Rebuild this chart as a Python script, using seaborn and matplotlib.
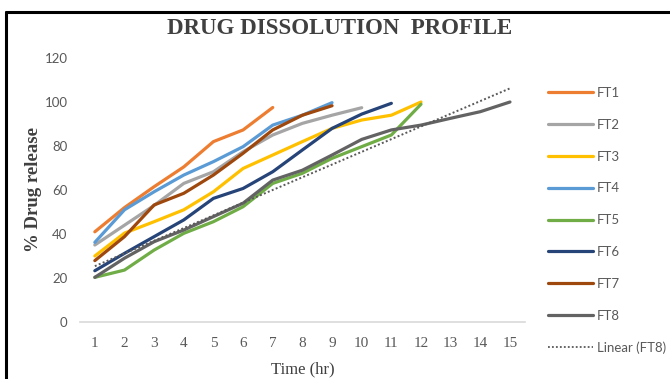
import numpy as np
import pandas as pd
import matplotlib
matplotlib.use("Agg")
import matplotlib.pyplot as plt
import seaborn as sns
from matplotlib.lines import Line2D

time_hr = list(range(1, 16))
series_names = ["FT1", "FT2", "FT3", "FT4", "FT5", "FT6", "FT7", "FT8"]
ft1 = [41, 52, 61.5, 70.5, 82, 87.3, 97.5]
ft2 = [35, 44, 53, 63, 68.3, 77.4, 85, 90.3, 94, 97.4]
ft3 = [30, 40.4, 45.6, 51, 59.2, 69.8, 75.9, 82, 88, 91.8, 94, 100]
ft4 = [36.2, 51, 59.2, 66.8, 72.9, 79.7, 89.5, 94, 99.7]
ft5 = [20.3, 23.6, 32.7, 40.3, 45.6, 52.4, 63, 67.6, 74.4, 79.7, 85, 99]
ft6 = [23.3, 31.2, 38.8, 46.4, 56.2, 60.7, 68.3, 78.2, 88, 94.5, 99.4]
ft7 = [27.9, 38.8, 53.2, 58.5, 66.8, 76.7, 87.3, 94, 98.3]
ft8 = [20.3, 29, 36.5, 41.8, 47.9, 54, 64.5, 69, 75.9, 83, 87.3, 89.5, 92.6, 95.6, 100]
all_series = [ft1, ft2, ft3, ft4, ft5, ft6, ft7, ft8]
colors = ["#ED7D31", "#A5A5A5", "#FFC000", "#5B9BD5", "#70AD47", "#264478", "#9E480E", "#636363"]
y_ticks = [0, 20, 40, 60, 80, 100, 120]

rows = []
for name, vals in zip(series_names, all_series):
    for t, v in zip(time_hr, vals):
        rows.append({"Time": t, "Release": v, "Formulation": name})
df = pd.DataFrame(rows)
df8 = pd.DataFrame({"Time": time_hr, "Release": ft8})

sns.set_theme(style="white")
plt.rcParams["font.family"] = ["Lato", "DejaVu Sans"]

fig = plt.figure(figsize=(6.70, 3.79), dpi=100)
ax = fig.add_axes([80 / 670, 1 - 322 / 379, (524.8 - 80) / 670, (322 - 58) / 379])

sns.lineplot(data=df, x="Time", y="Release", hue="Formulation",
             palette=dict(zip(series_names, colors)), linewidth=2.3,
             ax=ax, legend=False, sort=False)
sns.regplot(data=df8, x="Time", y="Release", scatter=False, ci=None, truncate=True,
            ax=ax, line_kws=dict(color="#595959", linestyle=(0, (1, 1.2)), linewidth=1.4))

ax.set_xlim(0.5, 15.5)
ax.set_ylim(0, 120)
ax.set_xticks(time_hr)
ax.set_xticklabels([str(t) for t in time_hr], family="Liberation Serif", fontsize=11, color="#595959")
ax.set_yticks(y_ticks)
ax.set_yticklabels([str(v) for v in y_ticks], fontsize=9.5, color="#595959")
ax.tick_params(axis="y", length=0, pad=9)
ax.tick_params(axis="x", length=0, pad=11)
for s in ["top", "right", "left"]:
    ax.spines[s].set_visible(False)
ax.spines["bottom"].set_color("#D9D9D9")
ax.spines["bottom"].set_linewidth(1.2)
ax.grid(False)

ax.set_xlabel("Time (hr)", family="Liberation Serif", fontsize=12, color="#404040", labelpad=8)
ax.set_ylabel("% Drug release", family="Liberation Serif", fontsize=13.5, fontweight="bold",
              color="#404040", labelpad=2)

fig.text(340 / 670, 1 - 28 / 379, "DRUG DISSOLUTION  PROFILE", family="Liberation Serif",
         fontsize=16.5, fontweight="bold", color="#404040", ha="center", va="center")

handles = [Line2D([], [], color=c, linewidth=2.3) for c in colors]
handles.append(Line2D([], [], color="#595959", linestyle=(0, (1, 1.2)), linewidth=1.3))
labels = series_names + ["Linear (FT8)"]
leg = fig.legend(handles, labels, loc="upper left", bbox_to_anchor=(548 / 670, 1 - 87 / 379),
                 frameon=False, fontsize=9.5, labelspacing=1.5, handlelength=3.4,
                 handletextpad=0.3, borderaxespad=0, borderpad=0)
for t in leg.get_texts():
    t.set_color("#595959")

# black frame (left, top, right)
fig.add_artist(Line2D([6 / 670, 6 / 670], [0, 1 - 12 / 379], color="black", linewidth=2.2,
                      transform=fig.transFigure))
fig.add_artist(Line2D([6 / 670, 1.0], [1 - 12 / 379, 1 - 12 / 379], color="black", linewidth=2.2,
                      transform=fig.transFigure))

fig.savefig("out.png", dpi=100)
